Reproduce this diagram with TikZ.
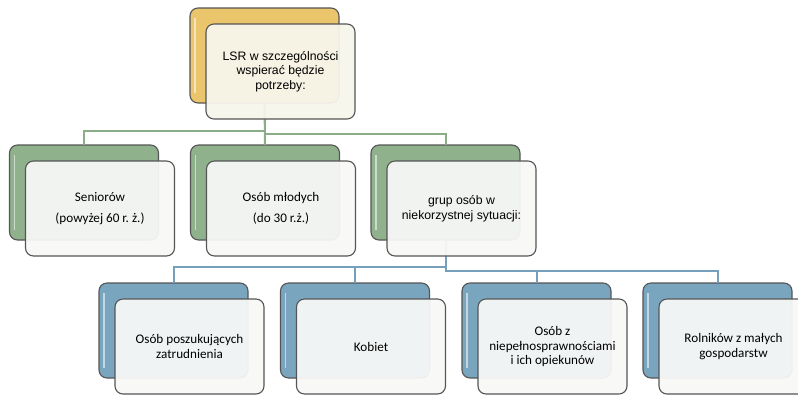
\documentclass[tikz,border=0pt]{standalone}
\usepackage{fontspec}
\setmainfont{Carlito}
\newfontfamily\headfont{Liberation Sans}
\usetikzlibrary{positioning}

\definecolor{goldfill}{RGB}{234,197,108}
\definecolor{greenfill}{RGB}{143,177,140}
\definecolor{bluefill}{RGB}{122,165,191}
\definecolor{greenline}{RGB}{139,174,136}
\definecolor{blueline}{RGB}{116,160,188}
\definecolor{boxline}{RGB}{85,85,85}
\definecolor{creamfill}{RGB}{247,245,236}
\definecolor{palefill}{RGB}{248,248,247}

\tikzset{
	backbox/.style={draw=boxline,line width=1.1bp,rounded corners=8bp,
		minimum width=149bp,minimum height=95bp,inner sep=0pt,outer sep=0pt,
		path picture={\draw[white,opacity=0.55,line width=1.6bp]
			([xshift=5bp,yshift=-10bp]path picture bounding box.north west) --
			([xshift=5bp,yshift=10bp]path picture bounding box.south west);}},
	frontbox/.style={draw=boxline,line width=1.1bp,rounded corners=8bp,
		fill=palefill,fill opacity=0.94,text opacity=1,
		minimum width=149bp,minimum height=95bp,inner sep=2bp,outer sep=0pt,
		align=center,xshift=16bp,yshift=-16bp,
		font=\fontsize{13.2}{15}\selectfont},
	greenlink/.style={draw=greenline,line width=2bp},
	bluelink/.style={draw=blueline,line width=2bp},
}

\begin{document}
\begin{tikzpicture}[x=1bp,y=-1bp]
	\useasboundingbox (0,0) rectangle (798,394);

	% back boxes
	\node[backbox,fill=goldfill] (lsr) at (264.5,55.5) {};

	\begin{scope}[every node/.style={backbox,fill=greenfill}]
		\node (seniorzy) at (84,192.5) {};
		\node (mlodzi) at (265,192.5) {};
		\node (grupy) at (445.5,192.5) {};
	\end{scope}

	\begin{scope}[every node/.style={backbox,fill=bluefill}]
		\node (szukajacy) at (173.5,330.5) {};
		\node (kobiety) at (355,330.5) {};
		\node (niepelnosprawni) at (536.5,330.5) {};
		\node (rolnicy) at (717.5,330.5) {};
	\end{scope}

	% connectors
	\draw[greenlink] (lsr.south) -- ++(0,28) -| (seniorzy.north);
	\draw[greenlink] (lsr.south) -- (mlodzi.north);
	\draw[greenlink] (lsr.south) -- ++(0,31) -| (grupy.north);

	\draw[bluelink] (grupy.south) -- ++(0,27) -| (szukajacy.north);
	\draw[bluelink] (grupy.south) -- ++(0,27) -| (kobiety.north);
	\draw[bluelink] (grupy.south) -- ++(0,31) -| (niepelnosprawni.north);
	\draw[bluelink] (grupy.south) -- ++(0,31) -| (rolnicy.north);

	% front boxes with text
	\node[frontbox,fill=creamfill,font=\headfont\fontsize{12.3}{14.5}\selectfont] (lsrtxt) at (lsr.center)
		{LSR w szczególności\\wspierać będzie\\potrzeby:};

	\node[frontbox] (seniorzytxt) at (seniorzy.center) {Seniorów\\[6bp](powyżej 60 r.~ż.)};
	\node[frontbox] (mlodzitxt) at (mlodzi.center) {Osób młodych\\[6bp](do 30 r.ż.)};
	\node[frontbox,font=\headfont\fontsize{12.3}{15}\selectfont] (grupytxt) at (grupy.center)
		{grup osób w\\niekorzystnej sytuacji:};

	\node[frontbox] (szukajacytxt) at (szukajacy.center) {Osób poszukujących\\zatrudnienia};
	\node[frontbox] (kobietytxt) at (kobiety.center) {Kobiet};
	\node[frontbox] (niepelnosprawnitxt) at (niepelnosprawni.center)
		{Osób z\\niepełnosprawnościami\\i ich opiekunów};
	\node[frontbox] (rolnicytxt) at (rolnicy.center) {Rolników z małych\\gospodarstw};

\end{tikzpicture}
\end{document}
